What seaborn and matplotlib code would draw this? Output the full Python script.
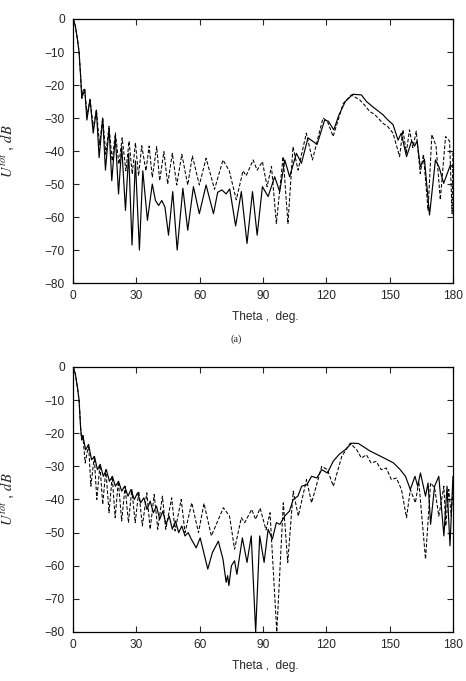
import matplotlib
matplotlib.use("Agg")
import matplotlib.pyplot as plt
import seaborn as sns

# panel (a), solid curve
a_solid_theta = [0, 1, 2, 2.8, 3.6, 4.1, 4.8, 5.5, 6.5, 8, 9.5, 11, 12.3, 14, 15.3, 17, 18.3, 20,
                 21.5, 23, 24.8, 26.3, 27.9, 29.5, 31.4, 33, 35.2, 37.5, 39, 40.5, 42, 43.5, 45.2,
                 47.2, 49.3, 52, 54.3, 57, 59.8, 63, 66.5, 68.5, 70.5, 72.5, 74.2, 77, 79.7, 82.4,
                 85, 87.2, 89.7, 92.4, 95.5, 97.9, 100.3, 102.6, 105.8, 108.2, 111.3, 115.6, 119.2,
                 121, 123.5, 126, 129, 132.6, 136.6, 139, 142, 146.8, 149, 151.6, 154, 155.5, 158,
                 160.4, 161.8, 163, 164.5, 166.5, 168.9, 171.7, 173.5, 175.6, 178.8, 180]
a_solid_db = [0, -2, -6, -10, -18, -24, -21.5, -21.3, -30.6, -24.3, -34.6, -27.6, -42, -30, -45.8,
              -33, -49, -35.6, -53, -38.7, -58, -40.7, -68.5, -43, -70, -46, -61, -50, -55, -56.5,
              -55, -57, -65.5, -52.3, -70, -51.3, -64, -50.8, -59, -50.3, -59, -52.5, -51.8, -53,
              -51.5, -62.7, -52.3, -68, -52.3, -65.5, -50.8, -53.8, -47.8, -52.3, -42.7, -47.8,
              -40.7, -43.7, -36, -38, -30.6, -31, -33.6, -29, -25, -22.8, -23, -25, -26.6, -29,
              -30.5, -32, -36.7, -34.6, -41.7, -37, -38.5, -37, -44.7, -42.5, -59.4, -42.7, -45,
              -49.8, -44.2, -45]

# panel (a), dashed curve
a_dash_theta = [0, 1, 2, 2.8, 3.6, 4.1, 5.5, 6.6, 8, 9.6, 11, 12.5, 14, 15.5, 17, 18.5, 20, 21.7,
                23.2, 25, 26.5, 28, 29.5, 31, 32.5, 34.5, 36, 37.5, 39.6, 41, 43, 44.8, 47, 49.1,
                51.5, 54.3, 56.5, 59.8, 63, 67, 71, 74, 77.3, 80.5, 82, 85.3, 87.2, 89.7, 91.9, 94,
                96.3, 99.5, 101.8, 104.2, 106.6, 110.5, 113.4, 118.4, 120.5, 123.2, 128, 131.8,
                135.8, 138, 140.5, 143, 146.8, 149, 151.6, 154.7, 156.3, 157.9, 159.4, 161, 162.6,
                164.5, 166, 168.2, 170, 172, 174, 176.5, 178.4, 179.6, 180]
a_dash_db = [0, -2, -6, -10, -18, -24, -21.5, -29, -24.5, -33, -27.5, -38, -30, -41, -32.5, -43,
             -34.5, -44, -36, -46, -37, -47, -37.5, -47.5, -38.4, -46, -38.5, -48, -38.7, -49,
             -40.2, -50, -40.7, -50.3, -41, -50.3, -41.5, -50.3, -42.2, -51.6, -42.7, -46, -54.8,
             -46, -47.5, -42.7, -45.8, -43.2, -50.8, -44.7, -62, -41.7, -62, -38.7, -45.8, -34.6,
             -42.7, -30, -31, -35.6, -25.6, -23, -24.5, -26, -28, -29, -31.6, -32.5, -34.6, -41.7,
             -33.6, -40.5, -33.6, -39, -34, -46.8, -41, -58, -35, -38.5, -54.8, -35.6, -37, -59,
             -40]

# panel (b), solid curve
b_solid_theta = [0, 1, 2, 2.8, 3.6, 4.1, 4.6, 5.9, 7.3, 8.7, 10.1, 11.5, 12.8, 14.3, 15.7, 17.2,
                 18.6, 20, 21.5, 23, 24.4, 26, 27.4, 29, 30.5, 32, 33.5, 35, 36.5, 38, 39.5, 41,
                 42.5, 44, 45.5, 47, 48.5, 50, 51.5, 53, 54.5, 56, 58.3, 60.2, 63.8, 66, 68.8, 71,
                 72.5, 73.2, 73.8, 75, 76.5, 77.6, 80.2, 82.4, 84.4, 86.5, 88.4, 90.5, 92.4, 94.4,
                 96.3, 98, 100.3, 102.5, 104.3, 106.5, 108.3, 110.8, 113, 115.5, 117.8, 120.5,
                 123.3, 126.2, 128.9, 132, 135.2, 140.8, 147.1, 151.9, 155, 157.5, 159.8, 162,
                 163.3, 164.6, 167, 168.2, 169.4, 171.3, 173.3, 175.7, 177.2, 178.6, 180]
b_solid_db = [0, -2, -6, -10, -19, -22, -20.7, -25, -23.4, -28, -27, -31, -29.4, -33, -31, -34.5,
              -33, -36, -34.5, -37.5, -36, -39, -37, -40, -38, -41, -39.5, -43, -40.5, -44, -42,
              -46, -43.5, -47.5, -45, -49, -46.5, -50, -48, -51, -50, -52, -54.6, -51.6, -61, -56,
              -52.6, -58, -65, -63, -66, -60, -58.5, -62.6, -51.6, -59, -51, -80, -51, -59, -49,
              -52, -47, -47.5, -45, -43.5, -40, -39, -36, -35.5, -33, -33.5, -31, -32, -28.4,
              -26.3, -25, -23, -23.1, -25.4, -27.4, -29, -31, -33, -37, -33, -36, -32, -39, -35,
              -47.5, -36, -33, -51, -36, -54, -33]

# panel (b), dashed curve
b_dash_theta = [0, 1, 2, 2.8, 3.6, 4.1, 4.6, 5.7, 7.3, 8.4, 10, 11.2, 12.7, 14, 15.5, 17, 18.5,
                19.9, 21.4, 23, 24.6, 26.2, 27.8, 29.4, 31.1, 32.8, 34.9, 36.5, 38.4, 40.1, 42.3,
                43.9, 46.7, 48.3, 51.2, 53, 56.2, 59.4, 62, 65.5, 71.2, 74.1, 76.5, 79.7, 81.3,
                84.6, 86.5, 88.6, 91.4, 93.3, 96.5, 99.6, 101.7, 104.3, 106.7, 110.6, 113, 117.8,
                120.5, 123.3, 127.3, 131.3, 134.4, 136.6, 139, 141.2, 143.6, 146, 148.4, 150.8,
                153.2, 155.6, 158, 159.8, 162.2, 163.8, 167, 169.4, 171.3, 173.3, 175.7, 176.6,
                178, 179.2, 180]
b_dash_db = [0, -2, -6, -10, -19, -22, -20.7, -29, -23.4, -36, -27, -40, -29.5, -41.5, -31, -44,
             -33, -45.5, -34.5, -46.5, -36, -47, -37, -47, -37.5, -48, -38, -49, -38.5, -49, -39,
             -49, -39.5, -49.5, -40, -50, -41, -50, -41.2, -51, -42.5, -45, -55, -45.5, -47, -43,
             -46, -42.6, -49.2, -44, -80, -41, -59, -37.5, -45, -34, -41, -30, -31, -36, -27, -23,
             -25, -27.5, -26.5, -29, -28.5, -31, -30.5, -34, -33.5, -37, -45.5, -37, -41, -34.5,
             -58, -35, -36.5, -45, -36, -48, -37, -45, -36]

x_ticks = [0, 30, 60, 90, 120, 150, 180]
y_ticks = [0, -10, -20, -30, -40, -50, -60, -70, -80]

sns.set_style("ticks")
plt.rcParams["font.family"] = ["Liberation Sans", "DejaVu Sans"]
plt.rcParams["mathtext.fontset"] = "stix"

fig = plt.figure(figsize=(4.66, 6.81), dpi=100)
ax_a = fig.add_axes([0.157, 0.5844, 0.815, 0.3877])
ax_b = fig.add_axes([0.157, 0.0720, 0.815, 0.3891])

panels = [
    (ax_a, a_solid_theta, a_solid_db, a_dash_theta, a_dash_db),
    (ax_b, b_solid_theta, b_solid_db, b_dash_theta, b_dash_db),
]

for ax, st, sd, dt, dd in panels:
    sns.lineplot(x=dt, y=dd, ax=ax, color="black", lw=0.75, linestyle=(0, (3.5, 1.8)),
                 estimator=None, sort=False)
    sns.lineplot(x=st, y=sd, ax=ax, color="black", lw=0.85,
                 estimator=None, sort=False)
    ax.set_xlim(0, 180)
    ax.set_ylim(-80, 0)
    ax.set_xticks(x_ticks)
    ax.set_yticks(y_ticks)
    ax.tick_params(direction="in", length=4, width=0.8, labelsize=8.6,
                   top=True, right=True, labeltop=False, labelright=False)
    ax.tick_params(axis="x", pad=5)
    ax.tick_params(axis="y", pad=6)
    for sp in ax.spines.values():
        sp.set_visible(True)
        sp.set_linewidth(0.9)
        sp.set_color("black")
    ax.set_xlabel("Theta ,  deg.", fontsize=8.6)
    ax.xaxis.set_label_coords(0.505, -0.105)
    ax.set_ylabel(r"$U^{tot}$ , $dB$", fontsize=10.5)
    ax.yaxis.set_label_coords(-0.148, 0.5)

fig.text(236 / 466, 1 - 339 / 681, "(a)", ha="center", va="center",
         fontsize=7.5, family="Liberation Serif")

fig.savefig("out.png", dpi=100)
